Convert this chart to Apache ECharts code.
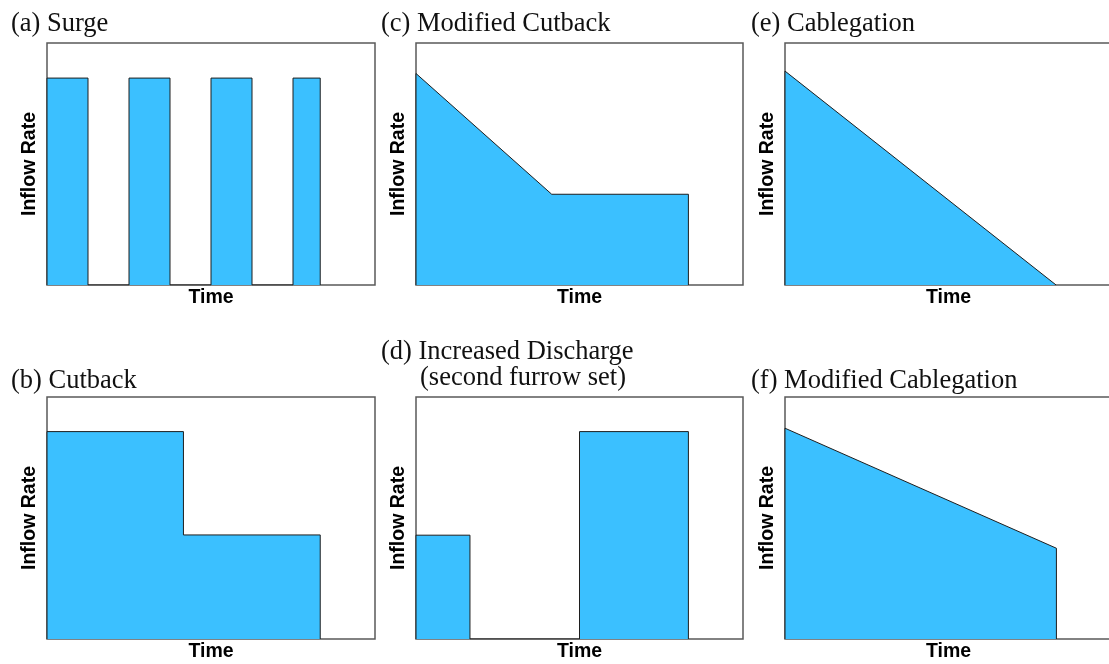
<!DOCTYPE html>
<html>
<head>
<meta charset="utf-8">
<script src="https://cdn.jsdelivr.net/npm/echarts@6/dist/echarts.min.js"></script>
<style>
html,body{margin:0;padding:0;background:#fff;}
#chart{width:1109px;height:664px;}
</style>
</head>
<body>
<div id="chart"></div>
<script>
// Panel titles
const panelTitles = ['(a) Surge', '(c) Modified Cutback', '(e) Cablegation', '(b) Cutback', '(d) Increased Discharge', '(f) Modified Cablegation'];
const subTitleD = '(second furrow set)';
const xAxisName = 'Time';
const yAxisName = 'Inflow Rate';

// (a) Surge
const surgeX = [0, 0, 12.5, 12.5, 25, 25, 37.5, 37.5, 50, 50, 62.5, 62.5, 75, 75, 83.3, 83.3];
const surgeY = [0, 85.5, 85.5, 0, 0, 85.5, 85.5, 0, 0, 85.5, 85.5, 0, 0, 85.5, 85.5, 0];
// (c) Modified Cutback
const modCutX = [0, 0, 41.5, 83.3, 83.3];
const modCutY = [0, 87.4, 37.5, 37.5, 0];
// (e) Cablegation
const cableX = [0, 0, 82.9];
const cableY = [0, 88.4, 0];
// (b) Cutback
const cutX = [0, 0, 41.6, 41.6, 83.3, 83.3];
const cutY = [0, 85.7, 85.7, 43, 43, 0];
// (d) Increased Discharge
const incX = [0, 0, 16.5, 16.5, 50, 50, 83.3, 83.3];
const incY = [0, 42.9, 42.9, 0, 0, 85.7, 85.7, 0];
// (f) Modified Cablegation
const modCableX = [0, 0, 83, 83];
const modCableY = [0, 87.1, 37.5, 0];

const panelsX = [surgeX, modCutX, cableX, cutX, incX, modCableX];
const panelsY = [surgeY, modCutY, cableY, cutY, incY, modCableY];

const fill = '#3bc0ff';
const grids = [
  {left: 47, top: 43, width: 328, height: 242},
  {left: 416, top: 43, width: 327, height: 242},
  {left: 785, top: 43, width: 327, height: 242},
  {left: 47, top: 397, width: 328, height: 242},
  {left: 416, top: 397, width: 327, height: 242},
  {left: 785, top: 397, width: 327, height: 242}
].map(g => Object.assign(g, {show: true, containLabel: false, outerBoundsMode: 'none', borderColor: '#5a5a5a', borderWidth: 1.5, backgroundColor: 'transparent'}));

const titleStyle = {fontFamily: 'Liberation Serif', fontSize: 26.5, fontWeight: 'normal', color: '#111'};
const titlePos = [[11, 11], [381, 11], [751, 11], [11, 368], [381, 339], [751, 368]];
const titles = panelTitles.map((t, i) => ({text: t, left: titlePos[i][0], top: titlePos[i][1], padding: 0, textStyle: titleStyle}));
titles.push({text: subTitleD, left: 420, top: 365, padding: 0, textStyle: titleStyle});

const nameStyle = {fontFamily: 'Liberation Sans', fontWeight: 'bold', fontSize: 19.5, color: '#000'};
const xAxes = grids.map((g, i) => ({
  type: 'value', gridIndex: i, min: 0, max: 100,
  axisLine: {show: false}, axisTick: {show: false}, axisLabel: {show: false}, splitLine: {show: false},
  name: xAxisName, nameLocation: 'middle', nameGap: 3, nameTextStyle: nameStyle
}));
const yAxes = grids.map((g, i) => ({
  type: 'value', gridIndex: i, min: 0, max: 100,
  axisLine: {show: false}, axisTick: {show: false}, axisLabel: {show: false}, splitLine: {show: false},
  name: yAxisName, nameLocation: 'middle', nameRotate: 90, nameGap: 7, nameTextStyle: nameStyle
}));
const series = panelsX.map((xs, i) => ({
  type: 'line', xAxisIndex: i, yAxisIndex: i,
  data: xs.map((x, j) => [x, panelsY[i][j]]),
  showSymbol: false, symbol: 'none', silent: true,
  lineStyle: {color: '#1e1e1e', width: 1},
  areaStyle: {color: fill, opacity: 1},
  animation: false
}));

const chart = echarts.init(document.getElementById('chart'));
chart.setOption({
  backgroundColor: '#ffffff',
  animation: false,
  title: titles,
  grid: grids,
  xAxis: xAxes,
  yAxis: yAxes,
  series: series
});
</script>
</body>
</html>
